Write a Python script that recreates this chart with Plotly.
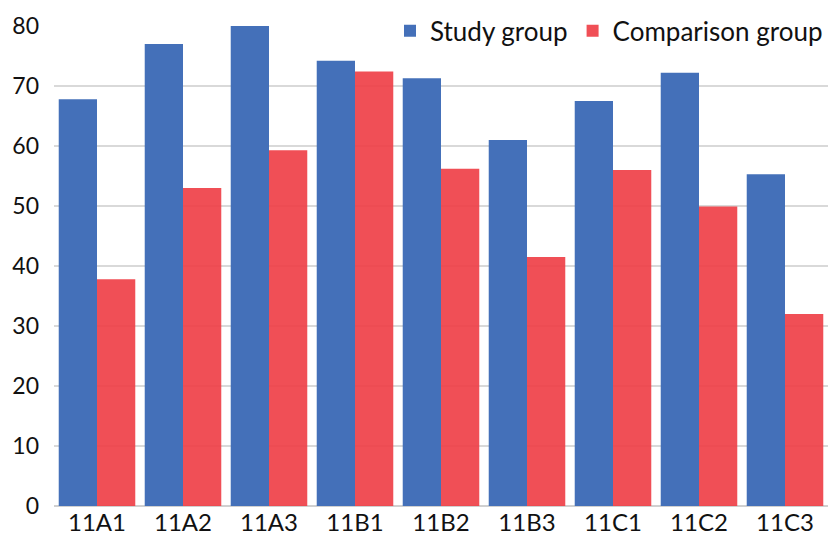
import plotly.graph_objects as go

categories = ["11A1", "11A2", "11A3", "11B1", "11B2", "11B3", "11C1", "11C2", "11C3"]
study_group = [67.8, 77.0, 80.0, 74.2, 71.3, 61.0, 67.5, 72.2, 55.3]
comparison_group = [37.8, 53.0, 59.3, 72.4, 56.2, 41.5, 56.0, 49.9, 32.0]
y_ticks = [0, 10, 20, 30, 40, 50, 60, 70, 80]

FONT = "Lato"
TEXT = "#111111"

fig = go.Figure()
fig.add_trace(go.Bar(
    x=categories, y=study_group, name="Study group",
    marker=dict(color="#4470b9", line=dict(width=0)),
))
fig.add_trace(go.Bar(
    x=categories, y=comparison_group, name="Comparison group",
    marker=dict(color="rgba(238,60,68,0.9)", line=dict(width=0)),
))

fig.update_layout(
    width=828, height=539,
    margin=dict(l=54, r=0, t=26, b=33),
    paper_bgcolor="white", plot_bgcolor="white",
    barmode="group", bargap=0.11, bargroupgap=0,
    font=dict(family=FONT, size=24, color=TEXT),
    legend=dict(
        orientation="h", x=1.0, xanchor="right", y=0.99, yanchor="middle",
        bgcolor="white", font=dict(size=26, color=TEXT),
        itemwidth=30, traceorder="normal",
    ),
    xaxis=dict(
        showgrid=False, showline=False, ticks="",
        tickfont=dict(size=24, color=TEXT), fixedrange=True,
    ),
    yaxis=dict(
        range=[0, 80], tickvals=y_ticks, showgrid=True,
        gridcolor="#d9d9d9", gridwidth=1.5, zeroline=True,
        zerolinecolor="#d0d0d0", zerolinewidth=1.5,
        showline=False, ticks="", ticklabelstandoff=14,
        tickfont=dict(size=23, color=TEXT),
    ),
)

fig.write_html("out.html")
